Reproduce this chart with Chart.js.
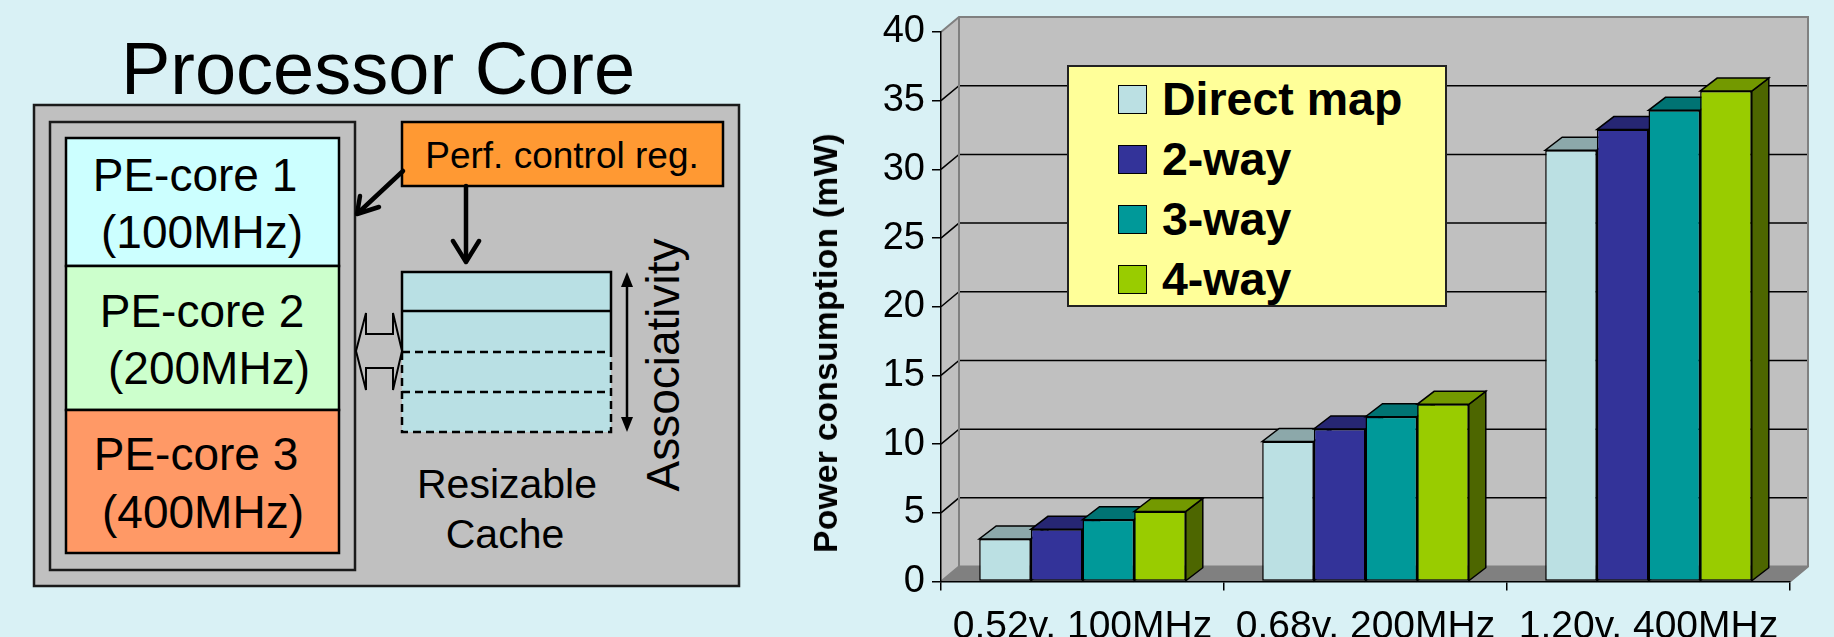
<!DOCTYPE html>
<html lang="en">
<head>
<meta charset="UTF-8">
<title>Processor Core - Power consumption</title>
<script src="https://cdn.jsdelivr.net/npm/chart.js"></script>
<style>
    body {
        margin: 0;
        background-color: #d9f1f5;
        font-family: 'Liberation Sans', Arial, sans-serif;
    }
    #page {
        position: relative;
        width: 1834px;
        height: 637px;
        overflow: hidden;
        background-color: #d9f1f5;
    }
    #diagram {
        position: absolute;
        left: 0;
        top: 0;
    }
    #chartBox {
        position: absolute;
        left: 760px;
        top: 0;
        width: 1074px;
        height: 637px;
    }
    #yTitle {
        position: absolute;
        left: 826px;
        top: 343px;
        transform: translate(-50%, -50%) rotate(-90deg);
        white-space: nowrap;
        font-weight: bold;
        font-size: 33.5px;
        letter-spacing: 0.3px;
        color: #000;
    }
    #legend {
        position: absolute;
        left: 1067px;
        top: 65px;
        width: 380px;
        height: 242px;
        box-sizing: border-box;
        background-color: #ffff99;
        border: 2px solid #222;
    }
    .legend-item {
        position: absolute;
        left: 49px;
        height: 52px;
        display: flex;
        align-items: center;
        font-weight: bold;
        font-size: 46.5px;
        white-space: nowrap;
    }
    .swatch {
        width: 29px;
        height: 29px;
        box-sizing: border-box;
        border: 1.5px solid #000;
        margin-right: 15px;
    }
</style>
</head>
<body>
<div id="page">
    <svg id="diagram" width="760" height="637" viewBox="0 0 760 637"
         font-family="'Liberation Sans', Arial, sans-serif" fill="#000">
        <text x="378" y="94" font-size="74" text-anchor="middle">Processor Core</text>

        <rect x="34" y="105" width="705" height="481" fill="#c0c0c0" stroke="#1a1a1a" stroke-width="2.5"/>
        <rect x="50" y="122" width="305" height="448" fill="#c0c0c0" stroke="#1a1a1a" stroke-width="2.5"/>

        <!-- PE cores -->
        <rect x="66" y="138" width="273" height="128" fill="#ccffff" stroke="#000" stroke-width="2.5"/>
        <rect x="66" y="266" width="273" height="144" fill="#ccffcc" stroke="#000" stroke-width="2.5"/>
        <rect x="66" y="410" width="273" height="143" fill="#ff9966" stroke="#000" stroke-width="2.5"/>
        <g font-size="46" text-anchor="middle">
            <text x="195" y="191">PE-core 1</text>
            <text x="202" y="248">(100MHz)</text>
            <text x="202" y="327">PE-core 2</text>
            <text x="209" y="384">(200MHz)</text>
            <text x="196" y="470">PE-core 3</text>
            <text x="203" y="528">(400MHz)</text>
        </g>

        <!-- performance control register -->
        <rect x="402" y="122" width="321" height="64" fill="#ff9933" stroke="#000" stroke-width="2.5"/>
        <text x="562" y="168" font-size="37" text-anchor="middle">Perf. control reg.</text>

        <g stroke="#000" stroke-width="4.5" fill="none" stroke-linecap="round" stroke-linejoin="round">
            <line x1="403" y1="171" x2="358" y2="213"/>
            <polyline points="360,196 357,214 379,207"/>
            <line x1="466" y1="186" x2="466" y2="261"/>
            <polyline points="453,241 466,262 479,241"/>
        </g>

        <!-- resizable cache -->
        <rect x="402" y="272" width="209" height="160" fill="#b9e0e4"/>
        <g stroke="#000" stroke-width="2.5" fill="none">
            <path d="M402,352 V272 H611 V352"/>
            <line x1="402" y1="311" x2="611" y2="311"/>
        </g>
        <g stroke="#000" stroke-width="2.5" fill="none" stroke-dasharray="8 5">
            <path d="M402,352 V432 H611 V352"/>
            <line x1="402" y1="352" x2="611" y2="352"/>
            <line x1="402" y1="392" x2="611" y2="392"/>
        </g>

        <!-- bus arrow -->
        <polygon points="356,351 366,313 366,334 393,334 393,313 402,351 393,390 393,368 366,368 366,390"
                 fill="#c0c0c0" stroke="#000" stroke-width="2"/>

        <!-- associativity arrow -->
        <line x1="627" y1="282" x2="627" y2="422" stroke="#000" stroke-width="2.5"/>
        <polygon points="627,272 621,287 633,287" fill="#000"/>
        <polygon points="627,432 621,417 633,417" fill="#000"/>
        <text transform="translate(679,365) rotate(-90)" font-size="46" text-anchor="middle">Associativity</text>

        <text x="507" y="498" font-size="41" text-anchor="middle">Resizable</text>
        <text x="505" y="548" font-size="41" text-anchor="middle">Cache</text>
    </svg>

    <div id="chartBox">
        <canvas id="powerChart" width="1074" height="637"></canvas>
    </div>
    <div id="yTitle">Power consumption (mW)</div>
    <div id="legend"></div>
</div>

<script>
    // ---- data ----
    const categories = ['0.52v, 100MHz', '0.68v, 200MHz', '1.20v, 400MHz'];
    const seriesNames = ['Direct map', '2-way', '3-way', '4-way'];
    const directMap = [3.1, 10.2, 31.4];
    const twoWay = [3.8, 11.1, 32.9];
    const threeWay = [4.5, 12.0, 34.3];
    const fourWay = [5.1, 12.9, 35.7];
    const yMin = 0;
    const yMax = 40;
    const yStep = 5;

    // ---- styles ----
    const frontColors = ['#bbe0e3', '#333399', '#009999', '#99cc00'];
    const topColors = ['#8ca8aa', '#262673', '#007373', '#739900'];
    const sideColors = ['#5e7072', '#1a1a4d', '#004d4d', '#4d6600'];
    const WALL_DX = 18, WALL_DY = -15;   // depth of the walls / floor
    const BAR_DX = 17, BAR_DY = -13;     // depth of the columns

    Chart.defaults.font.family = "'Liberation Sans', Arial, sans-serif";
    Chart.defaults.color = '#000';

    function fillPoly(ctx, pts, fill, stroke, lw) {
        ctx.beginPath();
        ctx.moveTo(pts[0][0], pts[0][1]);
        for (let k = 1; k < pts.length; k++) ctx.lineTo(pts[k][0], pts[k][1]);
        ctx.closePath();
        if (fill) { ctx.fillStyle = fill; ctx.fill(); }
        if (stroke) { ctx.strokeStyle = stroke; ctx.lineWidth = lw || 1; ctx.stroke(); }
    }

    // back wall, side wall, floor and gridlines of the 3D box
    const wallsPlugin = {
        id: 'walls',
        beforeDraw(chart) {
            const ctx = chart.ctx;
            const a = chart.chartArea;
            const y = chart.scales.y;
            ctx.save();
            // back wall
            fillPoly(ctx, [[a.left + WALL_DX, a.top + WALL_DY], [a.right + WALL_DX, a.top + WALL_DY],
                [a.right + WALL_DX, a.bottom + WALL_DY], [a.left + WALL_DX, a.bottom + WALL_DY]], '#c0c0c0', null);
            // side wall
            fillPoly(ctx, [[a.left, a.bottom], [a.left, a.top], [a.left + WALL_DX, a.top + WALL_DY],
                [a.left + WALL_DX, a.bottom + WALL_DY]], '#c0c0c0', null);
            // floor
            fillPoly(ctx, [[a.left, a.bottom], [a.right, a.bottom], [a.right + WALL_DX, a.bottom + WALL_DY],
                [a.left + WALL_DX, a.bottom + WALL_DY]], '#808080', null);

            // gridlines
            y.ticks.forEach(t => {
                if (t.value <= yMin || t.value >= yMax) return;
                const py = y.getPixelForValue(t.value);
                ctx.beginPath();
                ctx.moveTo(a.left, py);
                ctx.lineTo(a.left + WALL_DX, py + WALL_DY);
                ctx.lineTo(a.right + WALL_DX, py + WALL_DY);
                ctx.strokeStyle = '#000';
                ctx.lineWidth = 1.5;
                ctx.stroke();
            });

            // gray edges of the box
            ctx.beginPath();
            ctx.moveTo(a.left, a.top);
            ctx.lineTo(a.left + WALL_DX, a.top + WALL_DY);
            ctx.lineTo(a.right + WALL_DX, a.top + WALL_DY);
            ctx.lineTo(a.right + WALL_DX, a.bottom + WALL_DY);
            ctx.lineTo(a.right, a.bottom);
            ctx.moveTo(a.left + WALL_DX, a.top + WALL_DY);
            ctx.lineTo(a.left + WALL_DX, a.bottom + WALL_DY);
            ctx.lineTo(a.right + WALL_DX, a.bottom + WALL_DY);
            ctx.moveTo(a.left, a.bottom);
            ctx.lineTo(a.left + WALL_DX, a.bottom + WALL_DY);
            ctx.strokeStyle = '#808080';
            ctx.lineWidth = 2;
            ctx.stroke();
            ctx.restore();
        }
    };

    // side and top faces of the columns, left to right, before the front faces go on top
    const columnFacesPlugin = {
        id: 'columnFaces',
        beforeDatasetsDraw(chart) {
            const ctx = chart.ctx;
            ctx.save();
            chart.data.datasets.forEach((ds, i) => {
                chart.getDatasetMeta(i).data.forEach(bar => {
                    const p = bar.getProps(['x', 'y', 'base', 'width'], true);
                    const l = p.x - p.width / 2;
                    const r = p.x + p.width / 2;
                    fillPoly(ctx, [[r, p.y], [r + BAR_DX, p.y + BAR_DY], [r + BAR_DX, p.base + BAR_DY], [r, p.base]],
                        sideColors[i], '#000', 1.5);
                    fillPoly(ctx, [[l, p.y], [r, p.y], [r + BAR_DX, p.y + BAR_DY], [l + BAR_DX, p.y + BAR_DY]],
                        topColors[i], '#000', 1.5);
                });
            });
            ctx.restore();
        }
    };

    const seriesValues = [directMap, twoWay, threeWay, fourWay];
    const datasets = seriesNames.map((name, i) => ({
        label: name,
        data: seriesValues[i],
        backgroundColor: frontColors[i],
        borderColor: '#000',
        borderWidth: 1.5,
        borderSkipped: false,
        categoryPercentage: 0.73,
        barPercentage: 1.0
    }));

    new Chart(document.getElementById('powerChart').getContext('2d'), {
        type: 'bar',
        data: { labels: categories, datasets: datasets },
        options: {
            responsive: false,
            animation: false,
            devicePixelRatio: 1,
            layout: { padding: { top: 32, right: 44, left: 0, bottom: 0 } },
            plugins: {
                legend: { display: false },
                tooltip: { enabled: false }
            },
            scales: {
                x: {
                    grid: { drawOnChartArea: false, drawTicks: true, tickLength: 9, color: '#000', lineWidth: 1.5 },
                    border: { display: true, color: '#000', width: 1.5 },
                    ticks: { padding: 13, color: '#000', font: { size: 39 }, maxRotation: 0 },
                    afterFit: s => { s.height = 55.5; }
                },
                y: {
                    min: yMin,
                    max: yMax,
                    grid: { drawOnChartArea: false, drawTicks: true, tickLength: 9, color: '#000', lineWidth: 1.5 },
                    border: { display: true, color: '#000', width: 1.5 },
                    ticks: { stepSize: yStep, padding: 7, color: '#000', font: { size: 38 } },
                    afterFit: s => { s.width = 181; }
                }
            }
        },
        plugins: [wallsPlugin, columnFacesPlugin]
    });

    // legend box
    const legend = document.getElementById('legend');
    seriesNames.forEach((name, i) => {
        const item = document.createElement('div');
        item.className = 'legend-item';
        item.style.top = (6 + i * 60) + 'px';
        const sw = document.createElement('span');
        sw.className = 'swatch';
        sw.style.backgroundColor = frontColors[i];
        item.appendChild(sw);
        item.appendChild(document.createTextNode(name));
        legend.appendChild(item);
    });
</script>
</body>
</html>
